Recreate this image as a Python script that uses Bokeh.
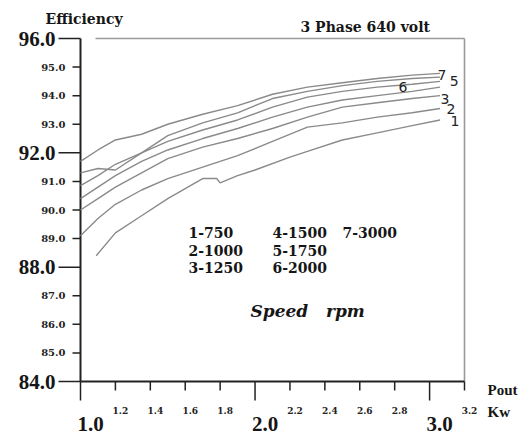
from bokeh.plotting import figure
from bokeh.models import Range1d
from bokeh.core.properties import value
from bokeh.embed import file_html
from bokeh.resources import INLINE

# ---------------- data ----------------
x_grid = [1.0, 1.1, 1.2, 1.35, 1.5, 1.7, 1.9, 2.1, 2.3, 2.5, 2.7, 2.9, 3.06]
eff_3000 = [91.7, 92.1, 92.45, 92.65, 93.0, 93.35, 93.65, 94.05, 94.3, 94.45, 94.6, 94.72, 94.78]
eff_2000 = [91.3, 91.45, 91.4, 92.0, 92.6, 93.05, 93.4, 93.9, 94.15, 94.35, 94.5, 94.6, 94.65]
eff_1750 = [90.85, 91.2, 91.6, 92.0, 92.4, 92.8, 93.15, 93.6, 93.95, 94.15, 94.3, 94.4, 94.5]
eff_1500 = [90.4, 90.8, 91.2, 91.7, 92.1, 92.5, 92.85, 93.25, 93.6, 93.85, 94.0, 94.15, 94.3]
eff_1250 = [90.0, 90.4, 90.8, 91.3, 91.8, 92.2, 92.5, 92.85, 93.25, 93.6, 93.75, 93.9, 94.0]
eff_1000 = [89.1, 89.7, 90.2, 90.7, 91.1, 91.5, 91.9, 92.4, 92.9, 93.05, 93.25, 93.4, 93.55]
x_750 = [1.09, 1.2, 1.35, 1.5, 1.7, 1.78, 1.8, 1.9, 2.0, 2.2, 2.3, 2.5, 2.7, 2.9, 3.06]
eff_750 = [88.4, 89.2, 89.8, 90.4, 91.1, 91.1, 90.95, 91.2, 91.4, 91.85, 92.05, 92.45, 92.7, 92.95, 93.15]

y_major = [84, 88, 92, 96]
y_minor = [85, 86, 87, 89, 90, 91, 93, 94, 95]
x_major = [1.0, 2.0, 3.0]
x_minor = [1.2, 1.4, 1.6, 1.8, 2.2, 2.4, 2.6, 2.8, 3.2]

legend_text = ["1-750", "2-1000", "3-1250", "4-1500", "5-1750", "6-2000", "7-3000"]
legend_x = [1.619, 1.619, 1.619, 2.100, 2.100, 2.100, 2.501]
legend_y = [89.21, 88.60, 87.99, 89.21, 88.60, 87.99, 89.21]

curve_tag = ["7", "5", "6", "3", "2", "1"]
curve_tag_x = [3.046, 3.115, 2.822, 3.063, 3.097, 3.12]
curve_tag_y = [94.74, 94.5, 94.32, 93.9, 93.52, 93.1]

# ---------------- layout (pixels) ----------------
W, H = 529, 434
FL, FT, FR, FB = 80, 38, 464, 381          # plotting area edges
X0, X1, Y0, Y1 = 1.0, 3.2, 84.0, 96.0
SX = (FR - FL) / (X1 - X0)
SY = (FB - FT) / (Y1 - Y0)
def dx(px): return px / SX
def dy(px): return px / SY

SERIF = "Liberation Serif"
DSERIF = "DejaVu Serif"
INK = "#161616"

p = figure(width=W, height=H,
           x_range=Range1d(X0 - dx(FL), X1 + dx(W - FR)),
           y_range=Range1d(Y0 - dy(H - FB), Y1 + dy(FT)),
           output_backend="svg", toolbar_location=None,
           x_axis_location=None, y_axis_location=None, min_border=0)
p.title.visible = False
p.outline_line_color = None
p.xgrid.visible = False
p.ygrid.visible = False

# ---------------- frame ----------------
p.segment(x0=[X0 + dx(15), X1], y0=[Y1, Y1], x1=[X1, X1], y1=[Y1, Y0],
          line_color="#9a9a9a", line_width=1.6)
# axis lines
p.segment(x0=[X0], y0=[Y1], x1=[X0], y1=[Y0], line_color="#222", line_width=2)
p.segment(x0=[X0], y0=[Y0], x1=[X1], y1=[Y0], line_color="#222", line_width=2)

# y ticks
p.segment(x0=[X0 - dx(22)] * len(y_major), y0=y_major, x1=[X0] * len(y_major), y1=y_major,
          line_color="#222", line_width=1.5)
p.segment(x0=[X0 - dx(8)] * len(y_minor), y0=y_minor, x1=[X0] * len(y_minor), y1=y_minor,
          line_color="#222", line_width=1.5)
# x ticks
p.segment(x0=x_major, y0=[Y0] * len(x_major), x1=x_major, y1=[Y0 - dy(19)] * len(x_major),
          line_color="#222", line_width=1.5)
p.segment(x0=x_minor, y0=[Y0] * len(x_minor), x1=x_minor, y1=[Y0 - dy(9)] * len(x_minor),
          line_color="#222", line_width=1.5)

# y tick labels
p.text(x=[X0 - dx(25)] * len(y_major), y=y_major, text=["%.1f" % v for v in y_major],
       text_font=value(SERIF), text_font_style="bold", text_font_size="21px", text_color=INK,
       text_align="right", text_baseline="middle")
p.text(x=[X0 - dx(15)] * len(y_minor), y=y_minor, text=["%.1f" % v for v in y_minor],
       text_font=value(DSERIF), text_font_style="bold", text_font_size="10px", text_color="#222",
       text_align="right", text_baseline="middle")
# x tick labels
p.text(x=[v + dx(10) for v in x_major], y=[Y0 - dy(42)] * len(x_major),
       text=["%.1f" % v for v in x_major],
       text_font=value(SERIF), text_font_style="bold", text_font_size="21px", text_color=INK,
       text_align="center", text_baseline="middle")
p.text(x=[v + dx(5) for v in x_minor], y=[Y0 - dy(29)] * len(x_minor),
       text=["%.1f" % v for v in x_minor],
       text_font=value(DSERIF), text_font_style="bold", text_font_size="9px", text_color="#222",
       text_align="center", text_baseline="middle")

# axis names and title texts
p.text(x=[X0 - dx(FL - 45), X0 + dx(300 - FL)], y=[Y1 + dy(FT - 18), Y1 + dy(FT - 26)],
       text=["Efficiency", "3 Phase 640 volt"], text_font=value(DSERIF), text_font_style="bold",
       text_font_size="14px", text_color=INK, text_baseline="middle", text_align="left")
p.text(x=[X1 + dx(487 - FR)] * 2, y=[Y0 - dy(389 - FB), Y0 - dy(411 - FB)],
       text=["Pout", "Kw"], text_font=value(SERIF), text_font_style="bold",
       text_font_size="15px", text_color=INK, text_baseline="middle", text_align="left")

# ---------------- curves ----------------
for ys in [eff_3000, eff_2000, eff_1750, eff_1500, eff_1250, eff_1000]:
    p.line(x_grid, ys, line_color="#8a8a8a", line_width=1.4)
p.line(x_750, eff_750, line_color="#8a8a8a", line_width=1.4)

p.text(curve_tag_x, curve_tag_y, text=curve_tag, text_font=value("DejaVu Sans"),
       text_font_size="14px", text_color="#222", text_baseline="middle", text_align="left")

p.text(legend_x, legend_y, text=legend_text, text_font=value(DSERIF), text_font_style="bold",
       text_font_size="14px", text_color=INK, text_baseline="middle")
p.text([1.974], [86.45], text=["Speed\u00a0\u00a0\u00a0rpm"], text_font=value(DSERIF),
       text_font_style="bold italic", text_font_size="17px", text_color=INK,
       text_baseline="middle")

open("out.html", "w").write(file_html(p, INLINE))
